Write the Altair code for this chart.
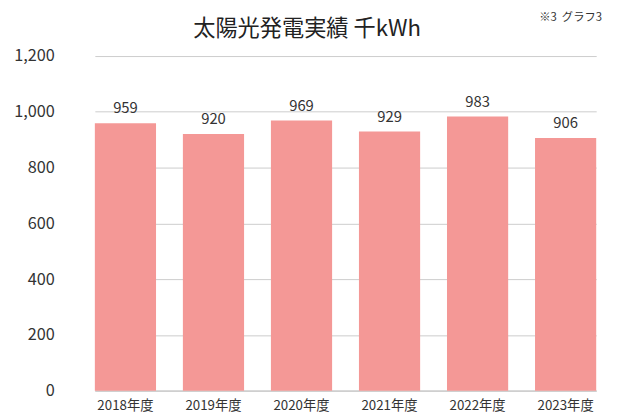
import altair as alt
import pandas as pd

years = ["2018年度", "2019年度", "2020年度", "2021年度", "2022年度", "2023年度"]
values = [959, 920, 969, 929, 983, 906]
title_text = "太陽光発電実績 千kWh"
note_text = "※3\u00a0\u00a0グラフ3"

df = pd.DataFrame({"year": years, "value": values})

FONT = "Noto Sans CJK JP"
W, H = 552, 339

x = alt.X("year:N", sort=years, title=None,
          scale=alt.Scale(range=[30, 538], paddingInner=0.305, paddingOuter=0),
          axis=alt.Axis(labelAngle=0, labelFont=FONT, labelFontSize=13.5, labelColor="#333333",
                        ticks=False, domainColor="#c8c8c8", domainWidth=1.5, labelPadding=8, grid=False))
y = alt.Y("value:Q", title=None,
          scale=alt.Scale(domain=[0, 1200]),
          axis=alt.Axis(values=[0, 200, 400, 600, 800, 1000, 1200], format=",d", labelFont=FONT,
                        labelFontSize=16.5, labelColor="#333333", ticks=False, domain=False,
                        gridColor="#cccccc", gridWidth=1, labelPadding=11))

base = alt.Chart(df)
bars = base.mark_bar(color="#F49896").encode(x=x, y=y)
labels = base.mark_text(font=FONT, fontSize=15, color="#333333", baseline="bottom", dy=-7).encode(
    x=alt.X("year:N", sort=years), y="value:Q", text="value:Q")
note = alt.Chart(pd.DataFrame({"t": [note_text]})).mark_text(
    font=FONT, fontSize=11.5, color="#333333", align="right", baseline="middle").encode(
    x=alt.value(544), y=alt.value(-39), text="t:N")
title = alt.Chart(pd.DataFrame({"t": [title_text]})).mark_text(
    font=FONT, fontSize=22.5, color="#222222", align="center", baseline="middle").encode(
    x=alt.value(245), y=alt.value(-27), text="t:N")

chart = alt.layer(bars, labels, note, title).properties(
    width=W, height=H,
    autosize=alt.AutoSizeParams(type="none"),
    padding={"left": 58, "top": 46, "right": 2, "bottom": 22},
).configure_view(stroke=None)

chart.save("out.html", embed_options={"renderer": "svg", "actions": False})
